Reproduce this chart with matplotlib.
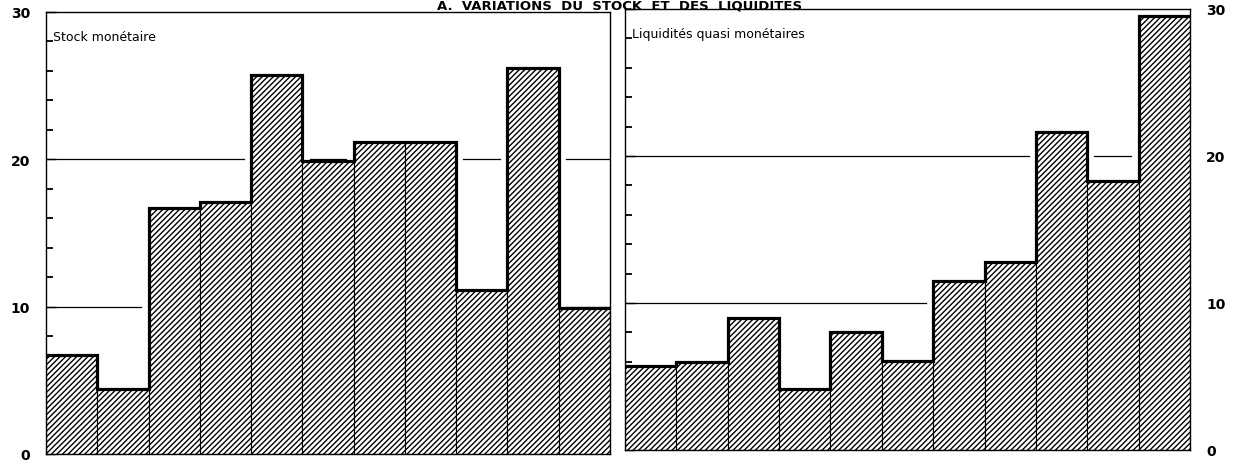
import numpy as np
import matplotlib.pyplot as plt
from matplotlib.ticker import MultipleLocator

# variations annuelles (en %)
stock_monetaire = [6.7, 4.4, 16.7, 17.1, 25.7, 19.9, 21.2, 21.2, 11.1, 26.2, 9.9]
liquidites_quasi = [5.7, 6.0, 9.0, 4.15, 8.0, 6.05, 11.5, 12.8, 21.6, 18.3, 29.5]
niveaux = [10, 20]
graduations = [0, 10, 20, 30]

plt.rcParams['hatch.linewidth'] = 1.0
plt.rcParams['font.family'] = 'DejaVu Sans'


def lignes_repere(ax, values, inset=0.14):
    # horizontal reference lines, interrupted by the bars standing above them
    n = len(values)
    for level in niveaux:
        i = 0
        while i < n:
            if values[i] < level:
                j = i
                while j < n and values[j] < level:
                    j += 1
                x0 = i + (inset if i > 0 else 0)
                x1 = j - (inset if j < n else 0)
                ax.plot([x0, x1], [level, level], color='black', lw=0.9, zorder=1)
                i = j
            else:
                i += 1


def panneau(ax, values, label, right_labels=False):
    edges = np.arange(len(values) + 1)
    ax.bar(edges[:-1], values, width=1, align='edge', facecolor='white',
           edgecolor='black', hatch='//////', linewidth=0.8, zorder=2)
    ax.stairs(values, edges, baseline=None, color='black', lw=2.3, zorder=3)
    lignes_repere(ax, values)

    ax.set_xlim(0, len(values))
    ax.set_ylim(0, 30)
    ax.set_xticks([])
    ax.set_yticks(graduations)
    ax.yaxis.set_minor_locator(MultipleLocator(2))
    ax.tick_params(axis='y', which='major', direction='in', length=7, width=1,
                   labelsize=10, pad=11.5)
    ax.tick_params(axis='y', which='minor', direction='in', length=5, width=1.3)
    if right_labels:
        ax.tick_params(axis='y', which='both', left=True, right=False,
                       labelleft=False, labelright=True)
    for tick in ax.yaxis.get_major_ticks():
        tick.label1.set_fontweight('bold')
        tick.label2.set_fontweight('bold')
    for s in ax.spines.values():
        s.set_linewidth(1.0)
    ax.text(0.14, 28.1, label, fontsize=9, va='baseline', zorder=4)


fig = plt.figure(figsize=(12.41, 4.64), dpi=100)
ax1 = fig.add_axes([46 / 1241, 1 - 455 / 464, 564 / 1241, 442 / 464])
ax2 = fig.add_axes([625 / 1241, 1 - 451 / 464, 565 / 1241, 441 / 464])

panneau(ax1, stock_monetaire, 'Stock monétaire')
panneau(ax2, liquidites_quasi, 'Liquidités quasi monétaires', right_labels=True)

fig.text(620 / 1241, 1 - 9.5 / 464, 'A.  VARIATIONS  DU  STOCK  ET  DES  LIQUIDITES',
         ha='center', va='baseline', fontsize=9.5, fontweight='bold')

fig.savefig('out.png', dpi=100)
